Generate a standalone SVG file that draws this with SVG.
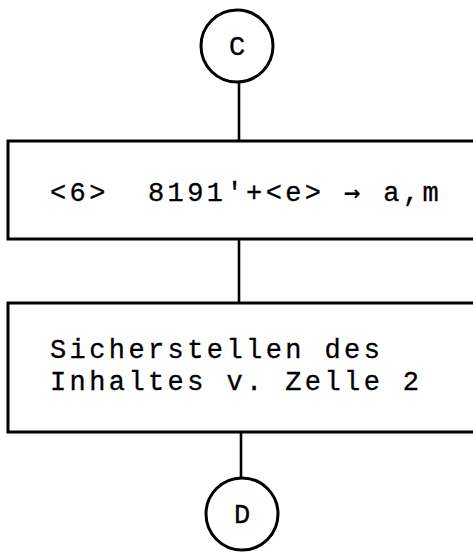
<svg xmlns="http://www.w3.org/2000/svg" width="473" height="553" viewBox="0 0 473 553">
  <style>
    .shape { fill: none; stroke: #000; stroke-width: 3; }
    .link { stroke: #000; stroke-width: 2.6; fill: none; }
    .txt { font-family: "Liberation Mono", "DejaVu Sans Mono", monospace; font-size: 27px; letter-spacing: 3.4px; fill: #000; stroke: #000; stroke-width: 0.3; }
    .arrow { font-family: "DejaVu Sans Mono", monospace; }
    .lbl { font-family: "Liberation Mono", "DejaVu Sans Mono", monospace; font-size: 27px; fill: #000; stroke: #000; stroke-width: 0.3; text-anchor: middle; }
  </style>
  <rect width="473" height="553" fill="#fff"/>

  <g id="connectors">
    <line class="link" x1="239" y1="82" x2="239" y2="141"/>
    <line class="link" x1="239" y1="239" x2="239" y2="303"/>
    <line class="link" x1="241" y1="432" x2="241" y2="477"/>
  </g>

  <g id="connector-c">
    <circle class="shape" cx="237" cy="46" r="36"/>
    <text class="lbl" x="237" y="55">C</text>
  </g>

  <g id="step-assign">
    <path class="shape" d="M480,141 H8 V239 H480"/>
    <text class="txt" x="50" y="201" xml:space="preserve">&lt;6&gt;  8191'+&lt;e&gt; <tspan class="arrow">→</tspan> a,m</text>
  </g>

  <g id="step-save">
    <path class="shape" d="M480,303 H8 V432 H480"/>
    <text class="txt" x="50" y="358">Sicherstellen des</text>
    <text class="txt" x="50" y="390">Inhaltes v. Zelle 2</text>
  </g>

  <g id="connector-d">
    <circle class="shape" cx="242" cy="514" r="36"/>
    <text class="lbl" x="242" y="523">D</text>
  </g>
</svg>
